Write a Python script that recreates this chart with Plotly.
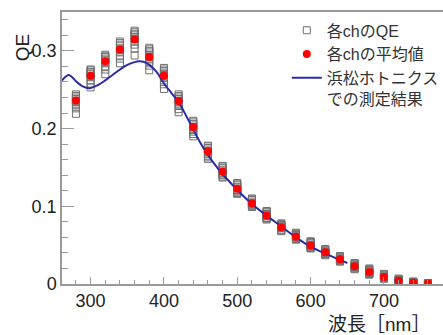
import plotly.graph_objects as go

# Wavelengths of the per-channel measurements [nm]
wavelengths = [280, 300, 320, 340, 360, 380, 400, 420, 440, 460, 480, 500, 520,
               540, 560, 580, 600, 620, 640, 660, 680, 700, 720, 740, 760]

# QE of each channel at each wavelength (one row per wavelength)
qe_ch = [
    [0.244, 0.242, 0.240, 0.238, 0.236, 0.234, 0.232, 0.230, 0.226, 0.219],
    [0.276, 0.275, 0.273, 0.272, 0.270, 0.268, 0.266, 0.262, 0.258, 0.253],
    [0.295, 0.293, 0.292, 0.290, 0.288, 0.286, 0.284, 0.280, 0.276, 0.270],
    [0.312, 0.310, 0.308, 0.306, 0.303, 0.301, 0.298, 0.294, 0.290, 0.284],
    [0.326, 0.324, 0.322, 0.320, 0.318, 0.315, 0.312, 0.308, 0.303, 0.294],
    [0.304, 0.302, 0.300, 0.298, 0.295, 0.292, 0.289, 0.286, 0.281, 0.275],
    [0.278, 0.276, 0.274, 0.272, 0.270, 0.268, 0.265, 0.262, 0.257, 0.251],
    [0.244, 0.242, 0.240, 0.238, 0.236, 0.234, 0.232, 0.229, 0.225, 0.221],
    [0.210, 0.208, 0.206, 0.204, 0.202, 0.200, 0.198, 0.196, 0.193, 0.190],
    [0.178, 0.177, 0.175, 0.173, 0.171, 0.169, 0.167, 0.165, 0.163, 0.161],
    [0.152, 0.151, 0.149, 0.147, 0.145, 0.143, 0.141, 0.140, 0.138, 0.137],
    [0.130, 0.129, 0.127, 0.125, 0.123, 0.121, 0.120, 0.118, 0.117, 0.116],
    [0.110, 0.109, 0.108, 0.106, 0.104, 0.103, 0.102, 0.101, 0.100, 0.099],
    [0.094, 0.093, 0.092, 0.090, 0.089, 0.088, 0.087, 0.085, 0.084, 0.083],
    [0.078, 0.077, 0.076, 0.075, 0.074, 0.073, 0.072, 0.070, 0.069, 0.068],
    [0.066, 0.065, 0.064, 0.063, 0.062, 0.061, 0.060, 0.059, 0.058, 0.057],
    [0.055, 0.054, 0.053, 0.052, 0.050, 0.049, 0.048, 0.047, 0.046, 0.046],
    [0.045, 0.044, 0.043, 0.042, 0.041, 0.040, 0.039, 0.039, 0.038, 0.037],
    [0.036, 0.035, 0.034, 0.033, 0.032, 0.031, 0.031, 0.030, 0.029, 0.029],
    [0.027, 0.026, 0.025, 0.024, 0.023, 0.022, 0.022, 0.021, 0.020, 0.019],
    [0.020, 0.019, 0.018, 0.017, 0.016, 0.015, 0.014, 0.013, 0.013, 0.012],
    [0.013, 0.012, 0.011, 0.010, 0.009, 0.009, 0.008, 0.008, 0.007, 0.007],
    [0.007, 0.006, 0.005, 0.005, 0.004, 0.004, 0.004, 0.003, 0.003, 0.002],
    [0.003, 0.003, 0.002, 0.002, 0.002, 0.002, 0.001, 0.001, 0.001, 0.001],
    [0.001, 0.001, 0.001, 0.001, 0.000, 0.000, 0.000, 0.000, 0.000, 0.000],
]

# Mean QE over channels
qe_mean = [0.236, 0.268, 0.2866, 0.3016, 0.3145, 0.292, 0.268, 0.2355, 0.202,
           0.1707, 0.1445, 0.1227, 0.1038, 0.0879, 0.0729, 0.0609, 0.0497,
           0.0407, 0.0317, 0.0227, 0.0154, 0.009, 0.0043, 0.0017, 0.0005]

# Hamamatsu measurement curve
hpk_wl = [260, 265, 270, 275, 280, 290, 298, 310, 320, 330, 340, 350, 360, 366,
          372, 380, 390, 400, 410, 420, 430, 440, 450, 460, 470, 480, 490, 500,
          520, 540, 550, 560, 580, 600, 620, 640, 650]
hpk_qe = [0.261, 0.266, 0.269, 0.266, 0.261, 0.254, 0.252, 0.256, 0.262, 0.269,
          0.276, 0.282, 0.2855, 0.2865, 0.286, 0.282, 0.273, 0.258, 0.246, 0.234,
          0.217, 0.199, 0.181, 0.166, 0.153, 0.141, 0.131, 0.121, 0.103, 0.088,
          0.081, 0.074, 0.060, 0.048, 0.039, 0.031, 0.027]

labels = ["各chのQE", "各chの平均値", "浜松ホトニクス<br>での測定結果"]
x_title = "波長［nm］"
y_title = "QE"

FONT = "Liberation Sans, Arial, Noto Sans CJK JP, sans-serif"

ch_x, ch_y = [], []
for wl, row in zip(wavelengths, qe_ch):
    for v in row:
        ch_x.append(wl)
        ch_y.append(v)

fig = go.Figure()
fig.add_trace(go.Scatter(
    x=ch_x, y=ch_y, mode="markers", name=labels[0], legendrank=1,
    marker=dict(symbol="square-open", size=7, color="#707070",
                line=dict(width=1, color="#707070")),
))
fig.add_trace(go.Scatter(
    x=hpk_wl, y=hpk_qe, mode="lines", name=labels[2], line_shape="spline",
    legendrank=3, line=dict(color="#2b2ba8", width=2),
))
fig.add_trace(go.Scatter(
    x=wavelengths, y=qe_mean, mode="markers", name=labels[1], legendrank=2,
    marker=dict(symbol="circle", size=8, color="#ff0000"),
))

fig.update_layout(
    width=443, height=335,
    margin=dict(l=62, r=0, t=12, b=51, autoexpand=False),
    paper_bgcolor="white", plot_bgcolor="white",
    font=dict(family=FONT, color="#222222"),
    showlegend=True,
    legend=dict(
        x=0.59, y=0.995, xanchor="left", yanchor="top",
        bgcolor="rgba(255,255,255,0)", borderwidth=0,
        font=dict(size=16, color="#333333", family=FONT),
        traceorder="normal", valign="top", tracegroupgap=0,
    ),
    xaxis=dict(
        range=[261, 780.5], showgrid=False, zeroline=False,
        showline=True, linecolor="#9a9a9a", linewidth=1.5, mirror=True,
        ticks="inside", ticklen=7, tickcolor="#9a9a9a", tickwidth=1,
        tickvals=[300, 400, 500, 600, 700],
        tickfont=dict(size=18, color="#222222"),
        minor=dict(ticks="inside", ticklen=4, dtick=20, tick0=260,
                   tickcolor="#9a9a9a", tickwidth=1),
    ),
    yaxis=dict(
        range=[0, 0.35], showgrid=False, zeroline=False,
        showline=True, linecolor="#9a9a9a", linewidth=1.5,
        ticks="inside", ticklen=12, tickcolor="#9a9a9a", tickwidth=1,
        tickvals=[0, 0.1, 0.2, 0.3], ticktext=["0", "0.1", "0.2", "0.3"],
        tickfont=dict(size=18, color="#222222"),
        minor=dict(ticks="inside", ticklen=6, dtick=0.02, tick0=0,
                   tickcolor="#9a9a9a", tickwidth=1),
    ),
    annotations=[
        dict(text=y_title, xref="paper", yref="paper", x=-0.105, y=0.87,
             xanchor="center", yanchor="middle",
             textangle=-90, showarrow=False, font=dict(size=19, color="#222222")),
        dict(text=x_title, xref="paper", yref="paper", x=0.972, y=-0.149,
             xanchor="right", yanchor="middle", showarrow=False,
             font=dict(size=19, color="#222222")),
    ],
)

fig.write_html("out.html", config={"displayModeBar": False},
               post_script="document.body.style.margin='0px';"
                           "document.body.style.padding='0px';")
